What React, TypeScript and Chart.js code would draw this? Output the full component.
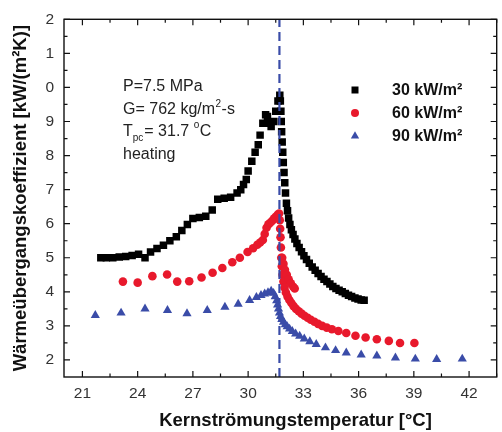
import React, { useEffect, useRef } from 'react';
import { Chart, registerables } from 'chart.js';

Chart.register(...registerables);

// ---- axes ----
const xTickValues = [21, 24, 27, 30, 33, 36, 39, 42];
const yTickValues = [2, 3, 4, 5, 6, 7, 8, 9, 10, 11, 12];
const xMin = 20;
const xMax = 43.5;
const yMin = 1.5;
const yMax = 12;
const tpc = 31.7;

const xTitle = 'Kernströmungstemperatur [°C]';
const yTitle = 'Wärmeübergangskoeffizient [kW/(m²K)]';
const seriesLabels = ['30 kW/m²', '60 kW/m²', '90 kW/m²'];

// ---- series: 30 kW/m² ----
const temp30 = [
  22.0, 22.3, 22.65, 23.0, 23.35, 23.7, 24.05, 24.4, 24.7, 25.05, 25.4, 25.75, 26.1, 26.4, 26.7, 27.0,
  27.35, 27.7, 28.05, 28.35, 28.7, 29.05, 29.4, 29.6, 29.75, 29.9, 30.0, 30.2, 30.38, 30.55, 30.65,
  30.8, 30.95, 31.05, 31.15, 31.25, 31.38, 31.5, 31.62, 31.72,
  31.75, 31.78, 31.8, 31.82, 31.85, 31.88, 31.91, 31.95, 31.99, 32.03, 32.08, 32.14, 32.2, 32.27,
  32.35, 32.44, 32.54, 32.65, 32.77, 32.9, 33.03, 33.17, 33.32, 33.48, 33.64, 33.8, 33.96, 34.12,
  34.28, 34.44, 34.6, 34.77, 34.94, 35.11, 35.28, 35.45, 35.62, 35.8, 35.97, 36.14, 36.3,
];
const htc30 = [
  5.0, 5.0, 5.0, 5.02, 5.04, 5.07, 5.1, 5.0, 5.17, 5.27, 5.37, 5.5, 5.62, 5.8, 5.98, 6.15,
  6.18, 6.22, 6.4, 6.72, 6.75, 6.78, 6.9, 7.0, 7.15, 7.3, 7.55, 7.83, 8.1, 8.32, 8.6,
  8.95, 9.2, 9.15, 8.95, 8.85, 9.0, 9.3, 9.6, 9.77,
  9.6, 9.3, 9.0, 8.7, 8.4, 8.1, 7.8, 7.5, 7.2, 6.9, 6.6, 6.38, 6.17, 5.98,
  5.82, 5.68, 5.55, 5.42, 5.3, 5.18, 5.06, 4.95, 4.84, 4.73, 4.63, 4.54, 4.45, 4.37,
  4.3, 4.23, 4.16, 4.1, 4.05, 4.0, 3.95, 3.9, 3.86, 3.82, 3.79, 3.76, 3.75,
];

// ---- series: 60 kW/m² ----
const temp60 = [
  23.2, 24.0, 24.8, 25.6, 26.15, 26.8, 27.47, 28.07, 28.6, 29.14, 29.55, 29.97, 30.27, 30.5, 30.65,
  30.8, 30.9, 31.0, 31.1, 31.2, 31.3, 31.4, 31.5, 31.6, 31.68,
  31.72, 31.74, 31.76, 31.78, 31.8, 31.83, 31.87, 31.92, 31.98, 32.05, 32.14, 32.24, 32.35, 32.47,
  32.6, 32.75, 32.9, 33.06, 33.23, 33.4, 33.6, 33.8, 34.02, 34.27, 34.55, 34.9, 35.33, 35.83, 36.38,
  36.99, 37.64, 38.25, 39.03,
  31.85, 31.92, 32.0, 32.1, 32.2, 32.32, 32.45, 32.53,
];
const htc60 = [
  4.3, 4.27, 4.46, 4.51, 4.3, 4.31, 4.42, 4.56, 4.7, 4.87, 5.0, 5.17, 5.28, 5.38, 5.45,
  5.52, 5.7, 5.88, 5.98, 6.03, 6.08, 6.15, 6.2, 6.26, 6.3,
  6.1, 5.85, 5.6, 5.3, 5.0, 4.75, 4.5, 4.3, 4.12, 3.98, 3.86, 3.76, 3.67, 3.58,
  3.5, 3.43, 3.36, 3.3, 3.24, 3.18, 3.12, 3.06, 3.0, 2.95, 2.9, 2.85, 2.79, 2.71, 2.66,
  2.61, 2.56, 2.5, 2.5,
  5.0, 4.82, 4.65, 4.5, 4.37, 4.25, 4.15, 4.1,
];

// ---- series: 90 kW/m² ----
const temp90 = [
  21.7, 23.1, 24.4, 25.62, 26.68, 27.78, 28.74, 29.46, 30.08, 30.45, 30.7, 30.9, 31.08, 31.25,
  31.38, 31.47, 31.55, 31.6, 31.65, 31.7, 31.76, 31.83, 31.92, 32.02, 32.12, 32.25, 32.4, 32.58,
  32.8, 33.05, 33.35, 33.7, 34.2, 34.75, 35.33, 36.14, 36.99, 38.0, 39.08, 40.24, 41.63,
];
const htc90 = [
  3.31, 3.38, 3.5, 3.46, 3.36, 3.46, 3.55, 3.64, 3.75, 3.84, 3.9, 3.94, 3.98, 4.02,
  3.96, 3.86, 3.74, 3.62, 3.5, 3.38, 3.28, 3.19, 3.11, 3.04, 2.98, 2.91, 2.84, 2.77,
  2.7, 2.62, 2.54, 2.46, 2.36, 2.28, 2.21, 2.15, 2.12, 2.06, 2.03, 2.02, 2.03,
];

const infoLines = ['P=7.5 MPa', 'G= 762 kg/m', 'T', 'heating'];

const BLACK = '#000000';
const RED = '#e8192c';
const BLUE = '#3a4ca8';
const FONT = '"Liberation Sans", Arial, sans-serif';

const toPoints = (xs: number[], ys: number[]) => xs.map((x, i) => ({ x, y: ys[i] }));

const decorPlugin = {
  id: 'decor',
  afterDatasetsDraw(chart: any) {
    const { ctx, chartArea } = chart;
    const xs = chart.scales.x;
    const ys = chart.scales.y;
    const { left, right, top, bottom } = chartArea;
    ctx.save();
    // frame
    ctx.strokeStyle = '#111';
    ctx.lineWidth = 1.4;
    ctx.strokeRect(left, top, right - left, bottom - top);
    // ticks
    ctx.lineWidth = 1.2;
    const xStep = xTickValues[1] - xTickValues[0];
    const yStep = yTickValues[1] - yTickValues[0];
    const xMinor = [xTickValues[0] - xStep / 2, ...xTickValues.map((v) => v + xStep / 2)].filter((v) => v > xMin && v <= xMax);
    const yMinor = [yTickValues[0] - yStep / 2, ...yTickValues.map((v) => v + yStep / 2)].filter((v) => v > yMin && v < yMax);
    const drawX = (v: number, len: number) => {
      const px = xs.getPixelForValue(v);
      ctx.beginPath();
      ctx.moveTo(px, bottom);
      ctx.lineTo(px, bottom - len);
      ctx.moveTo(px, top);
      ctx.lineTo(px, top + len);
      ctx.stroke();
    };
    const drawY = (v: number, len: number) => {
      const py = ys.getPixelForValue(v);
      ctx.beginPath();
      ctx.moveTo(left, py);
      ctx.lineTo(left + len, py);
      ctx.moveTo(right, py);
      ctx.lineTo(right - len, py);
      ctx.stroke();
    };
    xTickValues.forEach((v) => drawX(v, 6));
    xMinor.forEach((v) => drawX(v, 3.5));
    yTickValues.forEach((v) => drawY(v, 6));
    yMinor.forEach((v) => drawY(v, 3.5));

    // x title
    ctx.fillStyle = '#111';
    ctx.font = `bold 18.5px ${FONT}`;
    ctx.textAlign = 'center';
    ctx.textBaseline = 'alphabetic';
    ctx.fillText(xTitle, 295.5, 426);

    // info text
    ctx.textAlign = 'left';
    ctx.fillStyle = '#222';
    const big = `16px ${FONT}`;
    const small = `10px ${FONT}`;
    const x0 = 123;
    ctx.font = big;
    ctx.fillText(infoLines[0], x0, 91);
    // line 2
    let x = x0;
    ctx.fillText(infoLines[1], x, 114);
    x += ctx.measureText(infoLines[1]).width;
    ctx.font = small;
    ctx.fillText('2', x + 0.5, 107);
    x += ctx.measureText('2').width + 1;
    ctx.font = big;
    ctx.fillText('-s', x, 114);
    // line 3
    x = x0;
    ctx.fillText(infoLines[2], x, 136);
    x += ctx.measureText(infoLines[2]).width;
    ctx.font = small;
    ctx.fillText('pc', x, 141);
    x += ctx.measureText('pc').width + 1;
    ctx.font = big;
    const mid = '= 31.7 ';
    ctx.fillText(mid, x, 136);
    x += ctx.measureText(mid).width;
    ctx.font = small;
    ctx.fillText('o', x, 128);
    x += ctx.measureText('o').width + 0.5;
    ctx.font = big;
    ctx.fillText('C', x, 136);
    // line 4
    ctx.fillText(infoLines[3], x0, 159);

    // legend
    const legendY = [90, 113, 136];
    const mx = 355;
    chart.data.datasets.slice(0, 3).forEach((ds: any, i: number) => {
      const y = legendY[i];
      ctx.fillStyle = ds.backgroundColor;
      ctx.beginPath();
      if (ds.pointStyle === 'rect') {
        ctx.rect(mx - 3.5, y - 3.5, 7, 7);
      } else if (ds.pointStyle === 'circle') {
        ctx.arc(mx, y, 4, 0, Math.PI * 2);
      } else {
        const r = 4.8;
        ctx.moveTo(mx, y - r);
        ctx.lineTo(mx + r * 0.866, y + r * 0.5);
        ctx.lineTo(mx - r * 0.866, y + r * 0.5);
        ctx.closePath();
      }
      ctx.fill();
      ctx.fillStyle = '#111';
      ctx.font = `bold 16px ${FONT}`;
      ctx.textBaseline = 'middle';
      ctx.fillText(ds.label, 392, y + 1);
      ctx.textBaseline = 'alphabetic';
    });
    ctx.restore();
  },
};

export default function App() {
  const ref = useRef<HTMLCanvasElement | null>(null);
  useEffect(() => {
    document.body.style.margin = '0';
    if (!ref.current) return;
    const chart = new Chart(ref.current, {
      type: 'scatter',
      data: {
        datasets: [
          {
            label: seriesLabels[0],
            data: toPoints(temp30, htc30),
            pointStyle: 'rect',
            pointRadius: 5.3,
            backgroundColor: BLACK,
            borderColor: BLACK,
            borderWidth: 0,
            order: 1,
          } as any,
          {
            label: seriesLabels[1],
            data: toPoints(temp60, htc60),
            pointStyle: 'circle',
            pointRadius: 4.3,
            backgroundColor: RED,
            borderColor: RED,
            borderWidth: 0,
            order: 1,
          },
          {
            label: seriesLabels[2],
            data: toPoints(temp90, htc90),
            pointStyle: 'triangle',
            pointRadius: 5.3,
            backgroundColor: BLUE,
            borderColor: BLUE,
            borderWidth: 0,
            order: 1,
          },
          {
            type: 'line',
            label: 'Tpc',
            data: [
              { x: tpc, y: yMin },
              { x: tpc, y: yMax },
            ],
            borderColor: BLUE,
            borderWidth: 2.2,
            borderDash: [9, 5],
            pointRadius: 0,
            order: 0,
          } as any,
        ],
      },
      options: {
        animation: false,
        responsive: false,
        events: [],
        layout: { padding: { top: 17, right: 4, left: 0, bottom: 0 } },
        plugins: { legend: { display: false }, tooltip: { enabled: false } },
        scales: {
          x: {
            type: 'linear',
            min: xMin,
            max: xMax,
            grid: { display: false, drawTicks: false },
            border: { display: false },
            afterBuildTicks: (s: any) => {
              s.ticks = xTickValues.map((v) => ({ value: v }));
            },
            afterFit: (s: any) => {
              s.height = 55;
            },
            ticks: {
              color: '#333',
              font: { family: FONT, size: 15.5 },
              padding: 7,
              maxRotation: 0,
              autoSkip: false,
            },
          },
          y: {
            type: 'linear',
            min: yMin,
            max: yMax,
            grid: { display: false, drawTicks: false },
            border: { display: false },
            afterBuildTicks: (s: any) => {
              s.ticks = yTickValues.map((v) => ({ value: v }));
            },
            afterFit: (s: any) => {
              s.width = 64;
            },
            ticks: {
              color: '#333',
              font: { family: FONT, size: 15.5 },
              padding: 10,
              autoSkip: false,
              callback: (v: any) => String(Number(v) % 10),
            },
            title: {
              display: true,
              text: yTitle,
              color: '#111',
              font: { family: FONT, size: 18.5, weight: 'bold' },
              padding: { top: 9.5, bottom: 0 },
            },
          },
        },
      },
      plugins: [decorPlugin],
    });
    return () => chart.destroy();
  }, []);
  return (
    <div style={{ width: 502, height: 432, background: '#fff' }}>
      <canvas ref={ref} width={502} height={432} style={{ display: 'block' }} />
    </div>
  );
}
